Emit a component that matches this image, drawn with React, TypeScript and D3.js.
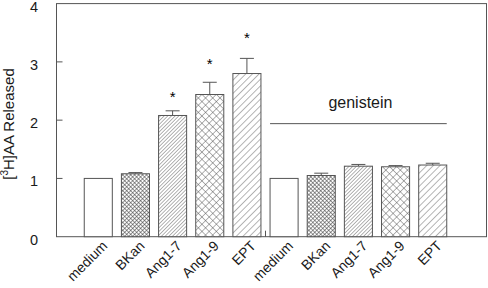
import React from "react";
import * as d3 from "d3";

const categories = ["medium", "BKan", "Ang1-7", "Ang1-9", "EPT", "medium", "BKan", "Ang1-7", "Ang1-9", "EPT"];
const values = [1.0, 1.08, 2.08, 2.44, 2.8, 1.0, 1.05, 1.21, 1.2, 1.23];
const errors = [0, 0.02, 0.08, 0.21, 0.26, 0, 0.04, 0.03, 0.02, 0.03];
const patterns = ["none", "checker", "fine", "cross", "coarse", "none", "checker", "fine", "cross", "coarse"];
const starValues: (number | null)[] = [null, null, 2.44, 3.0, 3.45, null, null, null, null, null];
const yTicks = [0, 1, 2, 3, 4];
const genisteinLabel = "genistein";
const genisteinLineValue = 1.94;
const genisteinTextValue = 2.2;
const genisteinRange = [5, 9];

const W = 488;
const H = 288;
const FONT = "'Liberation Sans', Arial, Helvetica, sans-serif";
const LINE = "#555";
const TEXT = "#1a1a1a";

export default function App() {
  const idx = categories.map((_, i) => String(i));
  const x = d3.scaleBand<string>().domain(idx).range([79.7, 451.3]).paddingInner(0.245).paddingOuter(0.1225);
  const y = d3.scaleLinear().domain([0, 4]).range([236.7, 3.6]);
  const left = 56.5;
  const right = 486.5;
  const bw = x.bandwidth();
  const groupTickX = (x("4")! + bw + x("5")!) / 2;

  return (
    <svg width={W} height={H} style={{ position: "absolute", left: 0, top: 0, background: "#fff" }} fontFamily={FONT}>
      <defs>
        <pattern id="checker" width="2.8" height="2.8" patternUnits="userSpaceOnUse" patternTransform="rotate(45)">
          <rect width="2.8" height="2.8" fill="#fff" />
          <line x1="0" y1="0" x2="0" y2="2.8" stroke="#444" strokeWidth="1.1" />
          <line x1="0" y1="0" x2="2.8" y2="0" stroke="#444" strokeWidth="1.1" />
        </pattern>
        <pattern id="fine" width="2.6" height="10" patternUnits="userSpaceOnUse" patternTransform="rotate(45)">
          <rect width="2.6" height="10" fill="#fff" />
          <line x1="0" y1="0" x2="0" y2="10" stroke="#555" strokeWidth="0.9" />
        </pattern>
        <pattern id="coarse" width="4.7" height="10" patternUnits="userSpaceOnUse" patternTransform="rotate(45)">
          <rect width="4.7" height="10" fill="#fff" />
          <line x1="0" y1="0" x2="0" y2="10" stroke="#555" strokeWidth="0.9" />
        </pattern>
        <pattern id="cross" width="5.1" height="5.1" patternUnits="userSpaceOnUse" patternTransform="rotate(45)">
          <rect width="5.1" height="5.1" fill="#fff" />
          <line x1="0" y1="0" x2="0" y2="5.1" stroke="#555" strokeWidth="0.9" />
          <line x1="0" y1="0" x2="5.1" y2="0" stroke="#555" strokeWidth="0.9" />
        </pattern>
      </defs>

      {/* frame */}
      <rect x={left} y={y(4)} width={right - left} height={y(0) - y(4)} fill="none" stroke={LINE} strokeWidth={1} />

      {/* y ticks */}
      {yTicks.map((t) => (
        <g key={t}>
          {t > 0 && t < 4 && <line x1={left} x2={left + 6} y1={y(t)} y2={y(t)} stroke={LINE} strokeWidth={1} />}
          <text x={38} y={y(t) + 8} textAnchor="end" fontSize={14.5} fill={TEXT}>
            {t}
          </text>
        </g>
      ))}

      {/* group separator tick */}
      <line x1={groupTickX} x2={groupTickX} y1={y(0)} y2={y(0) - 6} stroke={LINE} strokeWidth={1} />

      {/* y label */}
      <g transform="translate(14, 124)">
        <text transform="rotate(-90)" textAnchor="middle" fontSize={15} fill={TEXT}>
          [<tspan fontSize={10} dy={-6}>3</tspan>
          <tspan dy={6}>H]AA Released</tspan>
        </text>
      </g>

      {/* bars */}
      {values.map((v, i) => {
        const bx = x(String(i))!;
        const fill = patterns[i] === "none" ? "#fff" : `url(#${patterns[i]})`;
        const cx = bx + bw / 2;
        return (
          <g key={i}>
            {errors[i] > 0 && (
              <g stroke={LINE} strokeWidth={1}>
                <line x1={cx} x2={cx} y1={y(v)} y2={y(v + errors[i])} />
                <line x1={cx - 7} x2={cx + 7} y1={y(v + errors[i])} y2={y(v + errors[i])} />
              </g>
            )}
            <rect x={bx} y={y(v)} width={bw} height={y(0) - y(v)} fill={fill} stroke={LINE} strokeWidth={1} />
            {starValues[i] !== null && (
              <text x={cx} y={y(starValues[i] as number) + 7} textAnchor="middle" fontSize={15} fill="#000">
                *
              </text>
            )}
          </g>
        );
      })}

      {/* genistein */}
      <line
        x1={x(String(genisteinRange[0]))!}
        x2={x(String(genisteinRange[1]))! + bw}
        y1={y(genisteinLineValue)}
        y2={y(genisteinLineValue)}
        stroke={LINE}
        strokeWidth={1}
      />
      <text
        x={(x(String(genisteinRange[0]))! + x(String(genisteinRange[1]))! + bw) / 2 + 2}
        y={y(genisteinTextValue)}
        textAnchor="middle"
        fontSize={16}
        fill={TEXT}
      >
        {genisteinLabel}
      </text>

      {/* x labels */}
      {categories.map((c, i) => {
        const ax = x(String(i))! + bw / 2 + 10;
        const ay = y(0) + 10;
        return (
          <text
            key={i}
            x={ax}
            y={ay}
            transform={`rotate(-45 ${ax} ${ay})`}
            textAnchor="end"
            fontSize={14}
            fill={TEXT}
          >
            {c}
          </text>
        );
      })}
    </svg>
  );
}
